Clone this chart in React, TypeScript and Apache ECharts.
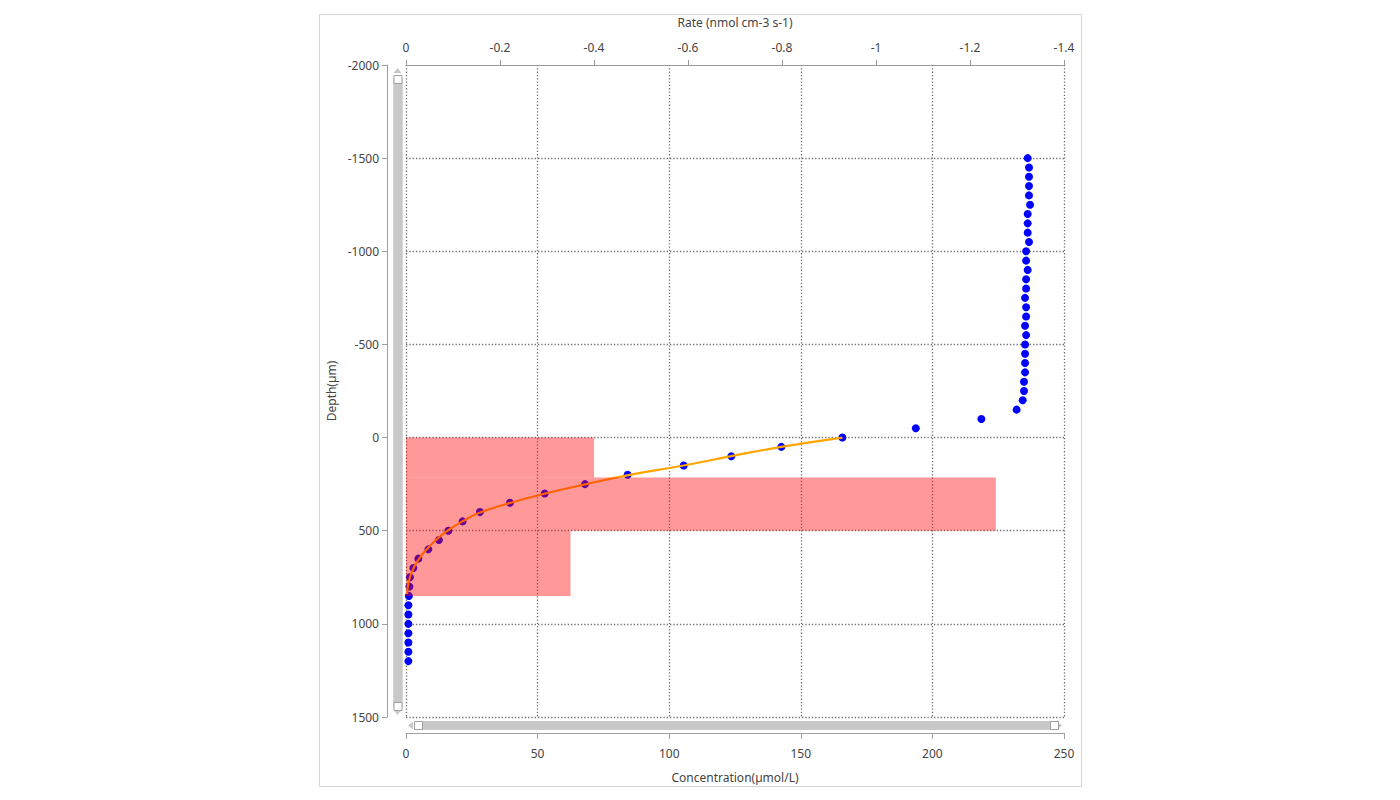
import { useEffect, useRef } from 'react';
import * as echarts from 'echarts';

// depth profile (µm) and measured concentration (µmol/L)
const profileDepth = [
  -1500, -1450, -1400, -1350, -1300, -1250, -1200, -1150, -1100, -1050,
  -1000, -950, -900, -850, -800, -750, -700, -650, -600, -550,
  -500, -450, -400, -350, -300, -250, -200, -150, -100, -50,
  0, 50, 100, 150, 200, 250, 300, 350, 400, 450,
  500, 550, 600, 650, 700, 750, 800, 850, 900, 950,
  1000, 1050, 1100, 1150, 1200,
];
const profileConc = [
  236.2, 236.7, 236.7, 236.7, 236.7, 237.1, 236.2, 236.2, 236.2, 236.7,
  235.6, 235.6, 236.2, 235.6, 235.6, 235.2, 235.6, 235.6, 235.2, 235.6,
  235.2, 235.2, 235.2, 235.2, 234.8, 234.8, 234.3, 232.0, 218.6, 193.7,
  165.8, 142.6, 123.6, 105.5, 84.2, 68.0, 52.7, 39.5, 28.1, 21.5,
  16.1, 12.5, 8.5, 4.7, 2.8, 1.5, 1.3, 1.1, 0.9, 0.9,
  0.9, 0.9, 0.9, 0.9, 0.9,
];

// fitted curve
const fitDepth = [0, 50, 100, 150, 200, 250, 300, 350, 400, 450, 500, 550, 600, 650, 700, 750, 800, 840];
const fitConc = [165.8, 142.6, 123.6, 105.5, 85.0, 68.5, 53.0, 39.8, 28.6, 21.4, 15.8, 11.4, 7.9, 5.0, 2.9, 1.5, 0.7, 0.4];

// consumption rate zones
const rateTop = [0, 215, 500];
const rateBottom = [215, 500, 850];
const rateValue = [-0.4, -1.255, -0.35];

const FONT = 'Noto Sans';
const AXIS_GREY = '#a0a0a0';
const LABEL = '#444';
const SPLIT_STYLE = { color: '#6e6e6e', type: [1.3, 2], width: 1.3 };

export default function App() {
  const chartRef = useRef<HTMLDivElement>(null);

  useEffect(() => {
    if (!chartRef.current) return;
    const chart = echarts.init(chartRef.current, undefined, { renderer: 'svg' });

    const points = profileDepth.map((d, i) => [profileConc[i], d]);
    const fit = fitDepth.map((d, i) => [fitConc[i], d]);
    const zones = rateValue.map((r, i) => [r, rateTop[i], rateBottom[i]]);

    const sliderCommon = {
      type: 'slider',
      filterMode: 'none',
      start: 0,
      end: 100,
      showDetail: false,
      showDataShadow: false,
      brushSelect: false,
      moveHandleSize: 0,
      borderColor: 'transparent',
      backgroundColor: '#c8c8c8',
      fillerColor: '#c8c8c8',
      handleIcon: 'path://M0,0H10V10H0Z',
      handleSize: 8,
      handleStyle: { color: '#ffffff', borderColor: '#a0a0a0', borderWidth: 1 },
    };

    const plain = (v: number) => String(Math.round(v * 10) / 10);

    const option = {
      animation: false,
      textStyle: { fontFamily: FONT },
      grid: { left: 406, top: 65, width: 658, height: 652, containLabel: false },
      xAxis: [
        {
          type: 'value',
          position: 'bottom',
          offset: 16,
          min: 0,
          max: 250,
          interval: 50,
          name: 'Concentration(µmol/L)',
          nameLocation: 'middle',
          nameGap: 38,
          nameTextStyle: { color: LABEL, fontSize: 12, fontFamily: FONT },
          axisLine: { show: true, onZero: false, lineStyle: { color: AXIS_GREY } },
          axisTick: { show: true, length: 6, lineStyle: { color: AXIS_GREY } },
          axisLabel: { color: LABEL, fontSize: 12, margin: 14, fontFamily: FONT, formatter: plain },
          splitLine: { show: true, lineStyle: SPLIT_STYLE },
        },
        {
          type: 'value',
          position: 'top',
          inverse: true,
          min: -1.4,
          max: 0,
          interval: 0.2,
          name: 'Rate (nmol cm-3 s-1)',
          nameLocation: 'middle',
          nameGap: 37,
          nameTextStyle: { color: LABEL, fontSize: 12, fontFamily: FONT },
          axisLine: { show: true, onZero: false, lineStyle: { color: '#999' } },
          axisTick: { show: true, length: 5, lineStyle: { color: '#999' } },
          axisLabel: { color: LABEL, fontSize: 12, margin: 12, fontFamily: FONT, formatter: plain },
          splitLine: { show: false },
          z: 10,
        },
      ],
      yAxis: {
        type: 'value',
        inverse: true,
        offset: 19,
        min: -2000,
        max: 1500,
        interval: 500,
        name: 'Depth(µm)',
        nameLocation: 'middle',
        nameRotate: 90,
        nameGap: 50,
        nameTextStyle: { color: LABEL, fontSize: 12, fontFamily: FONT },
        axisLine: { show: true, onZero: false, lineStyle: { color: AXIS_GREY } },
        axisTick: { show: true, length: 5, lineStyle: { color: AXIS_GREY } },
        axisLabel: { color: LABEL, fontSize: 12, margin: 8, fontFamily: FONT, formatter: plain },
        splitLine: { show: true, showMinLine: false, lineStyle: SPLIT_STYLE },
      },
      dataZoom: [
        { ...sliderCommon, yAxisIndex: 0, orient: 'vertical', left: 393, top: 77, bottom: 94, width: 9 },
        { ...sliderCommon, xAxisIndex: 0, orient: 'horizontal', left: 416, right: 346, top: 721, height: 9 },
      ],
      graphic: [
        {
          type: 'rect',
          shape: { x: 319.5, y: 14.5, width: 762, height: 772 },
          style: { fill: 'none', stroke: '#d4d4d4', lineWidth: 1 },
          silent: true,
        },
        { type: 'polygon', shape: { points: [[397.5, 68], [393.5, 73], [401.5, 73]] }, style: { fill: '#c8c8c8' } },
        { type: 'polygon', shape: { points: [[397.5, 715], [393.5, 710], [401.5, 710]] }, style: { fill: '#c8c8c8' } },
        { type: 'polygon', shape: { points: [[408, 725.5], [413, 721.5], [413, 729.5]] }, style: { fill: '#c8c8c8' } },
        { type: 'polygon', shape: { points: [[1062, 725.5], [1057, 721.5], [1057, 729.5]] }, style: { fill: '#c8c8c8' } },
      ],
      series: [
        {
          type: 'scatter',
          xAxisIndex: 0,
          yAxisIndex: 0,
          data: points,
          symbolSize: 8,
          itemStyle: { color: '#0000ff', opacity: 1 },
          z: 3,
        },
        {
          type: 'line',
          xAxisIndex: 0,
          yAxisIndex: 0,
          data: fit,
          smooth: true,
          showSymbol: false,
          lineStyle: { color: '#ffa500', width: 2.2 },
          z: 4,
        },
        {
          type: 'custom',
          xAxisIndex: 1,
          yAxisIndex: 0,
          data: zones,
          encode: { x: 0, y: [1, 2] },
          z: 5,
          renderItem: (_params: any, api: any) => {
            const p0 = api.coord([0, api.value(1)]);
            const p1 = api.coord([api.value(0), api.value(2)]);
            return {
              type: 'rect',
              shape: {
                x: Math.min(p0[0], p1[0]),
                y: Math.min(p0[1], p1[1]),
                width: Math.abs(p1[0] - p0[0]),
                height: Math.abs(p1[1] - p0[1]),
              },
              style: { fill: 'rgba(255, 0, 0, 0.4)' },
            };
          },
        },
      ],
    };

    chart.setOption(option);

    const handleResize = () => chart.resize();
    window.addEventListener('resize', handleResize);

    return () => {
      window.removeEventListener('resize', handleResize);
      chart.dispose();
    };
  }, []);

  return (
    <div
      ref={chartRef}
      style={{ position: 'absolute', left: 0, top: 0, width: '1400px', height: '800px', background: '#fff' }}
    />
  );
}
